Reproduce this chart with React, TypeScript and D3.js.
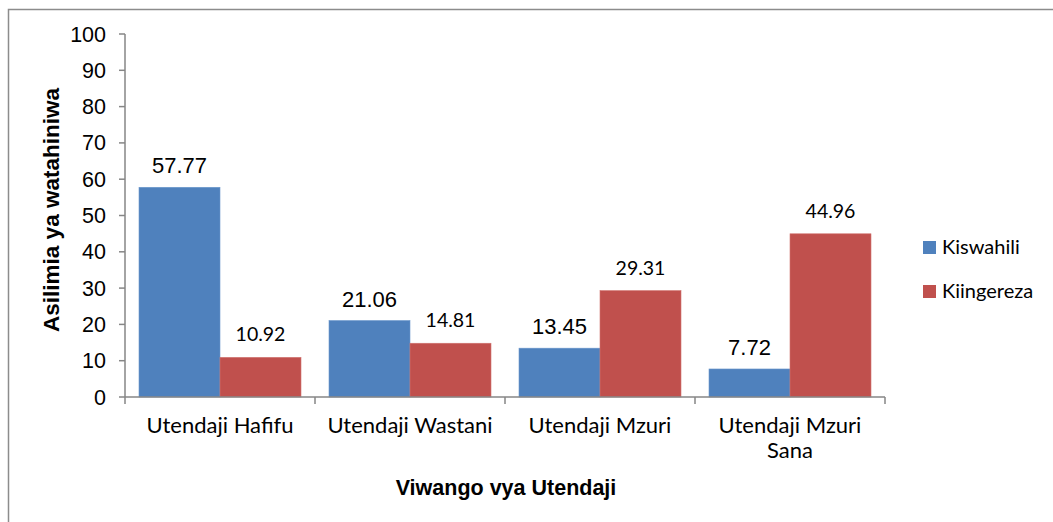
import React from "react";
import * as d3 from "d3";

const categories = ["Utendaji Hafifu", "Utendaji Wastani", "Utendaji Mzuri", "Utendaji Mzuri Sana"];
const categoryLines = [["Utendaji Hafifu"], ["Utendaji Wastani"], ["Utendaji Mzuri"], ["Utendaji Mzuri", "Sana"]];
const seriesNames = ["Kiswahili", "Kiingereza"];
const kiswahili = [57.77, 21.06, 13.45, 7.72];
const kiingereza = [10.92, 14.81, 29.31, 44.96];
const yTicks = [0, 10, 20, 30, 40, 50, 60, 70, 80, 90, 100];

const colors = ["#4F81BD", "#C0504D"];
const width = 1053, height = 522;
const margin = { top: 34, left: 125, right: 168, bottom: 125 };
const arial = "'Liberation Sans', Arial, sans-serif";
const calibri = "Lato, 'Open Sans', sans-serif";

export default function App() {
  const values = [kiswahili, kiingereza];
  const x0 = d3.scaleBand<string>()
    .domain(categories)
    .range([margin.left, width - margin.right]);
  const x1 = d3.scaleBand<string>()
    .domain(seriesNames)
    .range([14, x0.bandwidth() - 14]);
  const y = d3.scaleLinear()
    .domain([0, 100])
    .range([height - margin.bottom, margin.top]);
  const y0 = y(0);
  const axisColor = "#868686";

  return (
    <div style={{ position: "absolute", left: 0, top: 0 }}>
      <svg width={width} height={height} style={{ display: "block", background: "#fff" }}>
        {/* outer frame */}
        <rect x={8.5} y={9.5} width={width} height={height} fill="none" stroke="#8c8c8c" strokeWidth={1.5} />

        {/* bars */}
        {categories.map((c, i) => (
          <g key={c} transform={`translate(${x0(c)},0)`}>
            {seriesNames.map((s, j) => {
              const v = values[j][i];
              const bx = x1(s)!;
              return (
                <g key={s}>
                  <rect x={bx} y={y(v)} width={x1.bandwidth()} height={y0 - y(v)}
                    fill={colors[j]} stroke={j === 0 ? "#6b97cc" : "#d0736f"} strokeWidth={0.6} />
                  <text x={bx + x1.bandwidth() / 2} y={y(v) - (j === 0 ? 14 : 16)} textAnchor="middle"
                    fontFamily={j === 0 ? arial : calibri} fontSize={j === 0 ? 22 : 19.5} fill="#000">
                    {v.toFixed(2)}
                  </text>
                </g>
              );
            })}
          </g>
        ))}

        {/* y axis */}
        <line x1={margin.left} x2={margin.left} y1={y(100)} y2={y0} stroke={axisColor} strokeWidth={1.5} />
        {yTicks.map(t => (
          <g key={t}>
            <line x1={margin.left - 6} x2={margin.left} y1={y(t)} y2={y(t)} stroke={axisColor} strokeWidth={1.5} />
            <text x={margin.left - 19} y={y(t) + 7.5} textAnchor="end" fontFamily={arial} fontSize={21.5} fill="#000">{t}</text>
          </g>
        ))}

        {/* x axis */}
        <line x1={margin.left} x2={width - margin.right} y1={y0} y2={y0} stroke={axisColor} strokeWidth={1.5} />
        {[...categories.map(c => x0(c)!), width - margin.right].map((px, i) => (
          <line key={i} x1={px} x2={px} y1={y0} y2={y0 + 7} stroke={axisColor} strokeWidth={1.5} />
        ))}
        {categories.map((c, i) => (
          <text key={c} x={x0(c)! + x0.bandwidth() / 2} y={433} textAnchor="middle"
            fontFamily={calibri} fontSize={22} fill="#000">
            {categoryLines[i].map((l, k) => (
              <tspan key={k} x={x0(c)! + x0.bandwidth() / 2} dy={k === 0 ? 0 : 25}>{l}</tspan>
            ))}
          </text>
        ))}

        {/* axis titles */}
        <text x={506} y={495} textAnchor="middle" fontFamily={arial} fontWeight="bold" fontSize={21.5} fill="#000">
          Viwango vya Utendaji
        </text>
        <text transform={`translate(59,210) rotate(-90)`} textAnchor="middle" fontFamily={arial}
          fontWeight="bold" fontSize={22.5} fill="#000">
          Asilimia ya watahiniwa
        </text>

        {/* legend */}
        {seriesNames.map((s, j) => (
          <g key={s} transform={`translate(923,${241 + j * 44})`}>
            <rect x={0} y={0} width={13} height={13} fill={colors[j]} />
            <text x={19} y={13} fontFamily={calibri} fontSize={20} fill="#000">{s}</text>
          </g>
        ))}
      </svg>
    </div>
  );
}
